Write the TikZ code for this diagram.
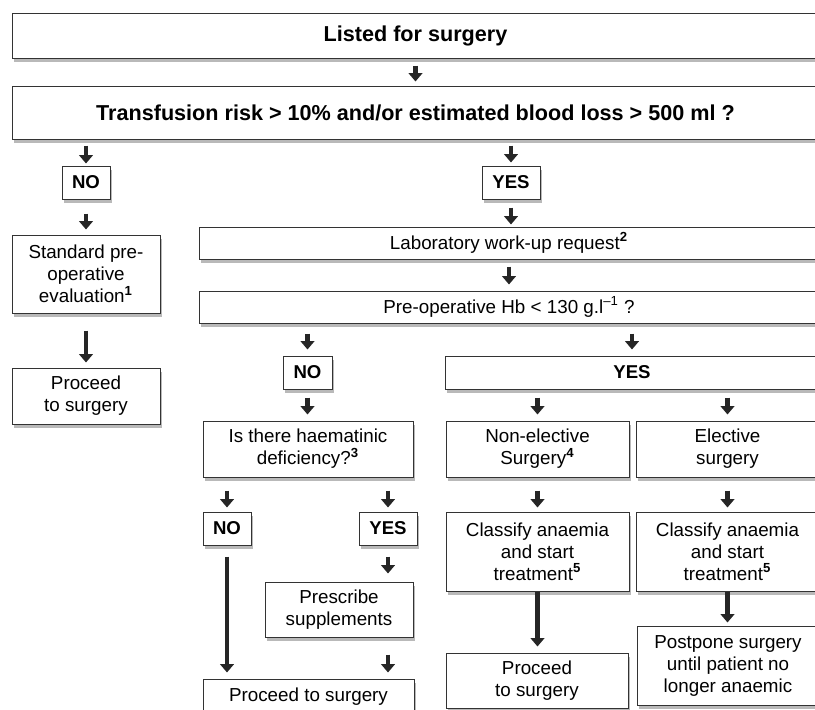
\documentclass[tikz,border=0pt]{standalone}
\usepackage{fontspec}
\setmainfont{Liberation Sans}
\usepackage{tikz}
\usetikzlibrary{arrows.meta, shadows, calc}

\tikzset{
box/.style = {draw = black!80, fill = white, line width = 0.5pt, inner sep = 0pt, align = center,
  drop shadow = {shadow xshift = 1.2pt, shadow yshift = -1.8pt, fill = black!55},
  font = \fontsize{9.4}{11}\selectfont},
bigbox/.style = {box, font = \bfseries\fontsize{10.8}{13}\selectfont},
yn/.style = {box, font = \bfseries\fontsize{9.3}{11}\selectfont},
sz/.style 2 args = {minimum width = #1*0.5pt, minimum height = #2*0.5pt},
arr/.style = {line width = 2.1pt, draw = black!85, -{Triangle[width = 6.8pt, length = 4.2pt]}}
}
\newcommand{\fn}[1]{\textsuperscript{\textbf{#1}}}

\begin{document}
\begin{tikzpicture}[x = 0.5pt, y = -0.5pt]
\useasboundingbox (0, 0) rectangle (815, 709);
\clip (0, 0) rectangle (815, 709);
% top of the chart
\node[bigbox, sz = {807}{45}] at (415.5, 35.5) (listed) {Listed for surgery};
\node[bigbox, sz = {807}{53}] at (415.5, 112.5) (risk) {Transfusion risk > 10\% and/or estimated blood loss > 500 ml ?};
\node[yn, sz = {48}{33}] at (86, 182.5) (no1) {NO};
\node[yn, sz = {58}{33}] at (511, 182.5) (yes1) {YES};
% left branch
\node[box, sz = {148}{78}] at (86, 274) (std) {Standard pre-\\operative\\evaluation\fn{1}};
\node[box, sz = {148}{56}] at (86, 396) (proc1) {Proceed\\to surgery};
% right branch
\node[box, sz = {620}{32}] at (509, 243) (lab) {Laboratory work-up request\fn{2}};
\node[box, sz = {620}{32}] at (509, 307) (hb) {Pre-operative Hb < 130 g.l\textsuperscript{–1} ?};
\node[yn, sz = {49}{33}] at (307.5, 372.5) (no2) {NO};
\node[yn, sz = {374}{33}] at (632, 372.5) (yes2) {YES};
\node[box, sz = {210}{56}] at (308, 449) (haem) {Is there haematinic\\deficiency?\fn{3}};
\node[box, sz = {183}{56}] at (537.5, 449) (nonel) {Non-elective\\Surgery\fn{4}};
\node[box, sz = {183}{56}] at (727.5, 449) (el) {Elective\\surgery};
\node[yn, sz = {48}{33}] at (227, 528.5) (no3) {NO};
\node[yn, sz = {58}{33}] at (388, 528.5) (yes3) {YES};
\node[box, sz = {183}{79}] at (537.5, 551.5) (cl1) {Classify anaemia\\and start\\treatment\fn{5}};
\node[box, sz = {183}{79}] at (727.5, 551.5) (cl2) {Classify anaemia\\and start\\treatment\fn{5}};
\node[box, sz = {148}{55}] at (339, 609.5) (presc) {Prescribe\\supplements};
\node[box, sz = {211}{36}] at (308.5, 697) (proc2) {Proceed to surgery};
\node[box, sz = {182}{55}] at (537, 680.5) (proc3) {Proceed\\to surgery};
\node[box, sz = {182}{79}] at (728, 665.5) (post) {Postpone surgery\\until patient no\\longer anaemic};
% arrows, at the x of the lower box
\foreach \a/\b/\s/\e in {listed/risk/7/4, risk/no1/6/2, risk/yes1/6/3, lab/hb/7/6, hb/no2/10/6, hb/yes2/10/6,
  yes2/nonel/8/6, yes2/el/8/6, haem/no3/13/4, haem/yes3/13/4}{
\draw[arr, shorten <= \s*0.5pt, shorten >= \e*0.5pt] (\a.south -| \b) -- (\b.north);}
% arrows, at the x of the upper box
\foreach \a/\b/\s/\e in {no1/std/14/5, yes1/lab/8/2, std/proc1/17/5, no2/haem/8/6, nonel/cl1/13/4, el/cl2/13/4,
  no3/proc2/11/6, yes3/presc/11/8, cl1/proc3/0/6, cl2/post/0/3}{
\draw[arr, shorten <= \s*0.5pt, shorten >= \e*0.5pt] (\a.south) -- (\a.south |- \b.north);}
\draw[arr, shorten <= 17*0.5pt, shorten >= 6*0.5pt] (presc.south -| yes3) -- (proc2.north -| yes3);
\end{tikzpicture}
\end{document}
